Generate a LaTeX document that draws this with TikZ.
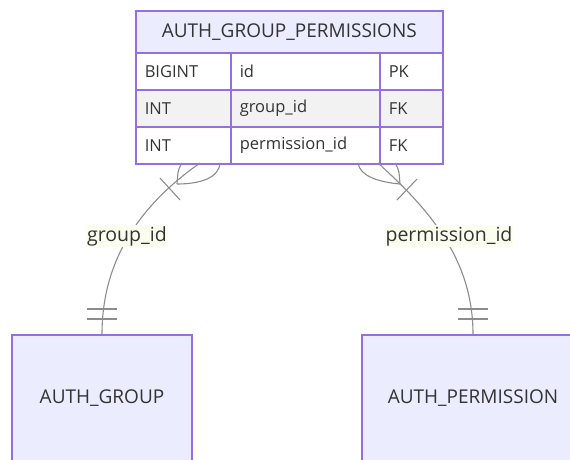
\documentclass[tikz,border=0pt]{standalone}
\usepackage{fontspec}
\setmainfont{Open Sans}
\definecolor{entborder}{HTML}{9370DB}
\definecolor{entfill}{HTML}{ECECFF}
\definecolor{rowodd}{HTML}{FFFFFF}
\definecolor{roweven}{HTML}{F2F2F2}
\definecolor{inktext}{HTML}{333333}
\definecolor{relline}{HTML}{8C8C8C}
\definecolor{lblbg}{HTML}{FBFEEF}
\tikzset{
  txt/.style={text=inktext},
  entbox/.style={txt, font=\fontsize{19}{22}\selectfont, draw=entborder, line width=1.6pt, fill=entfill, inner sep=0pt},
  cell/.style={txt, font=\fontsize{16.5}{20}\selectfont, draw=entborder, line width=1.6pt, inner ysep=0pt, inner xsep=9pt,
    anchor=north west, minimum height=37pt, align=left},
  rel/.style={draw=relline, line width=1.1pt},
  rellabel/.style={txt, font=\fontsize{19.5}{23}\selectfont, fill=lblbg, inner xsep=1pt, inner ysep=1.5pt}
}
\begin{document}
\begin{tikzpicture}[x=1pt, y=-1pt]
\useasboundingbox (0,0) rectangle (570,459);
\clip (0,0) rectangle (570,459);

% entity AUTH_GROUP_PERMISSIONS with its attribute rows
\node[entbox, anchor=north west, minimum width=307pt, minimum height=42pt] (agp) at (135,10) {AUTH\_GROUP\_PERMISSIONS};
\node[cell, fill=rowodd,  text width=77pt]  (r1a) at (135,52) {BIGINT};
\node[cell, fill=rowodd,  text width=131pt] (r1b) at (230,52) {id};
\node[cell, fill=rowodd,  text width=45pt]  (r1c) at (379,52) {PK};
\node[cell, fill=roweven, text width=77pt]  (r2a) at (135,89) {INT};
\node[cell, fill=roweven, text width=131pt] (r2b) at (230,89) {group\_id};
\node[cell, fill=roweven, text width=45pt]  (r2c) at (379,89) {FK};
\node[cell, fill=rowodd,  text width=77pt]  (r3a) at (135,126) {INT};
\node[cell, fill=rowodd,  text width=131pt] (r3b) at (230,126) {permission\_id};
\node[cell, fill=rowodd,  text width=45pt]  (r3c) at (379,126) {FK};

% related entities
\node[entbox, minimum width=180pt, minimum height=126pt] (grp) at (102,398) {AUTH\_GROUP};
\node[entbox, minimum width=222pt, minimum height=126pt] (perm) at (473,398) {AUTH\_PERMISSION};

% attachment points on the table's lower edge
\coordinate (gA) at (200,163);
\coordinate (gL) at (182,163);
\coordinate (gR) at (220,163);
\coordinate (gTip) at (177,184);
\coordinate (pA) at (378,163);
\coordinate (pL) at (358,163);
\coordinate (pR) at (395,163);
\coordinate (pTip) at (400,184);

% group_id relationship: one or more on the table side, exactly one on AUTH_GROUP
\draw[rel] (gA) .. controls (140,205) and (102,260) .. (grp.north);
\draw[rel] (gL) .. controls (178,170) .. (gTip);
\draw[rel] (gR) .. controls (219,178) and (200,184) .. (gTip);
\draw[rel] (160,178) -- (180,200);
\draw[rel] (87,309) -- (117,309);
\draw[rel] (87,319) -- (117,319);
\node[rellabel] (glbl) at (127,236) {group\_id};

% permission_id relationship: one or more on the table side, exactly one on AUTH_PERMISSION
\draw[rel] (pA) .. controls (430,210) and (473,260) .. (perm.north);
\draw[rel] (pL) .. controls (360,176) and (378,182) .. (pTip);
\draw[rel] (pR) .. controls (399,170) .. (pTip);
\draw[rel] (397,200) -- (417,179);
\draw[rel] (458,309) -- (488,309);
\draw[rel] (458,319) -- (488,319);
\node[rellabel] (plbl) at (449,236) {permission\_id};
\end{tikzpicture}
\end{document}
